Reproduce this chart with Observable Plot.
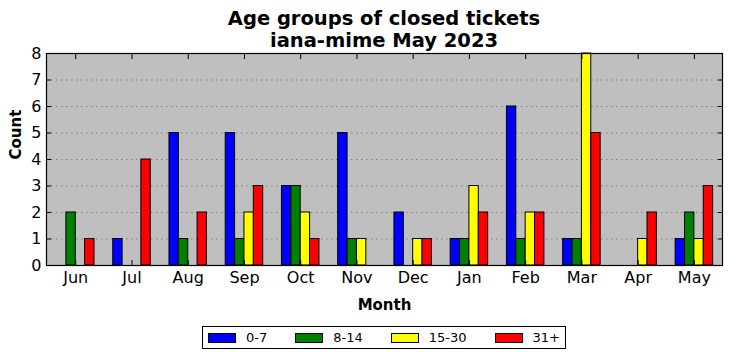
<!DOCTYPE html>
<html><head><meta charset="utf-8">
<script src="https://cdn.jsdelivr.net/npm/d3@7"></script>
<script src="https://cdn.jsdelivr.net/npm/@observablehq/plot@0.6"></script>
<style>
body{margin:0;background:#fff;font-family:"DejaVu Sans",sans-serif;}
#wrap{position:relative;width:732px;height:361px;}
#chart{position:absolute;left:0;top:0;}
#title{position:absolute;left:46px;width:676px;top:8px;text-align:center;font-weight:bold;font-size:19.5px;line-height:22px;z-index:2;color:#000;}
#legend{position:absolute;left:202px;top:326px;height:23px;border:1px solid #000;display:flex;align-items:center;padding:0 5px;box-sizing:border-box;font-size:13px;z-index:2;}
#legend .item{display:flex;align-items:center;margin-right:28px;}
#legend .item:last-child{margin-right:0;}
#legend .sw{width:28px;height:10px;border:1px solid #000;box-sizing:border-box;margin-right:10px;}
</style></head><body>
<div id="wrap">
<div id="chart"></div>
<div id="title">Age groups of closed tickets<br>iana-mime May 2023</div>
<div id="legend"></div>
</div>
<script>
const months = ["Jun","Jul","Aug","Sep","Oct","Nov","Dec","Jan","Feb","Mar","Apr","May"];
const series = ["0-7","8-14","15-30","31+"];
const colors = ["#0000ff","#008000","#ffff00","#ff0000"];
const age0to7   = [0,1,5,5,3,5,2,1,6,1,0,1];
const age8to14  = [2,0,1,1,3,1,0,1,1,1,0,2];
const age15to30 = [0,0,0,2,2,1,1,3,2,8,1,1];
const age31plus = [1,4,2,3,1,0,1,2,2,5,2,3];
const yTicks = [0,1,2,3,4,5,6,7,8];

const values = [age0to7, age8to14, age15to30, age31plus];
const barW = 1/6;
const data = [];
months.forEach((m, i) => series.forEach((s, k) => {
  data.push({month: m, i, series: s, x1: i + (k - 2) * barW, x2: i + (k - 1) * barW, count: values[k][i]});
}));
const monthIdx = months.map((m, i) => i);

const chart = Plot.plot({
  width: 732, height: 320,
  marginTop: 53, marginBottom: 55, marginLeft: 46, marginRight: 10,
  style: {background: "#fff", fontFamily: "DejaVu Sans, sans-serif", color: "#000"},
  x: {type: "linear", domain: [-0.52, 11.5]},
  y: {domain: [0, 8]},
  color: {domain: series, range: colors},
  marks: [
    Plot.frame({fill: "#bfbfbf", stroke: null}),
    Plot.ruleY(yTicks.slice(1, -1), {stroke: "#808080", strokeWidth: 1, strokeDasharray: "1.5,3.5"}),
    Plot.rectY(data, {x1: "x1", x2: "x2", y1: 0, y2: "count", fill: "series", stroke: "#000", strokeWidth: 1}),
    Plot.frame({stroke: "#000", strokeWidth: 1.2}),
    Plot.axisY(yTicks, {anchor: "left", tickSize: 0, tickPadding: 5, fontSize: 16, label: null}),
    Plot.axisY(yTicks, {anchor: "left", tickSize: -5, tickFormat: () => "", label: null}),
    Plot.axisY(yTicks, {anchor: "right", tickSize: -5, tickFormat: () => "", label: null}),
    Plot.axisX(monthIdx, {anchor: "bottom", tickSize: 0, tickPadding: 6, fontSize: 16, tickFormat: i => months[i], label: null}),
    Plot.axisX(monthIdx, {anchor: "bottom", tickSize: -5, tickFormat: () => "", label: null}),
    Plot.axisX(monthIdx, {anchor: "top", tickSize: -5, tickFormat: () => "", label: null}),
    Plot.text(["Month"], {frameAnchor: "bottom", dy: 40, fontSize: 15, fontWeight: "bold", lineAnchor: "middle"}),
    Plot.text(["Count"], {frameAnchor: "left", dx: -30, rotate: -90, fontSize: 15, fontWeight: "bold", lineAnchor: "middle"})
  ]
});
document.getElementById("chart").appendChild(chart);

const legend = document.getElementById("legend");
series.forEach((s, k) => {
  const it = document.createElement("div");
  it.className = "item";
  const sw = document.createElement("div");
  sw.className = "sw";
  sw.style.background = colors[k];
  const t = document.createElement("span");
  t.textContent = s;
  it.appendChild(sw); it.appendChild(t);
  legend.appendChild(it);
});
</script>
</body></html>
